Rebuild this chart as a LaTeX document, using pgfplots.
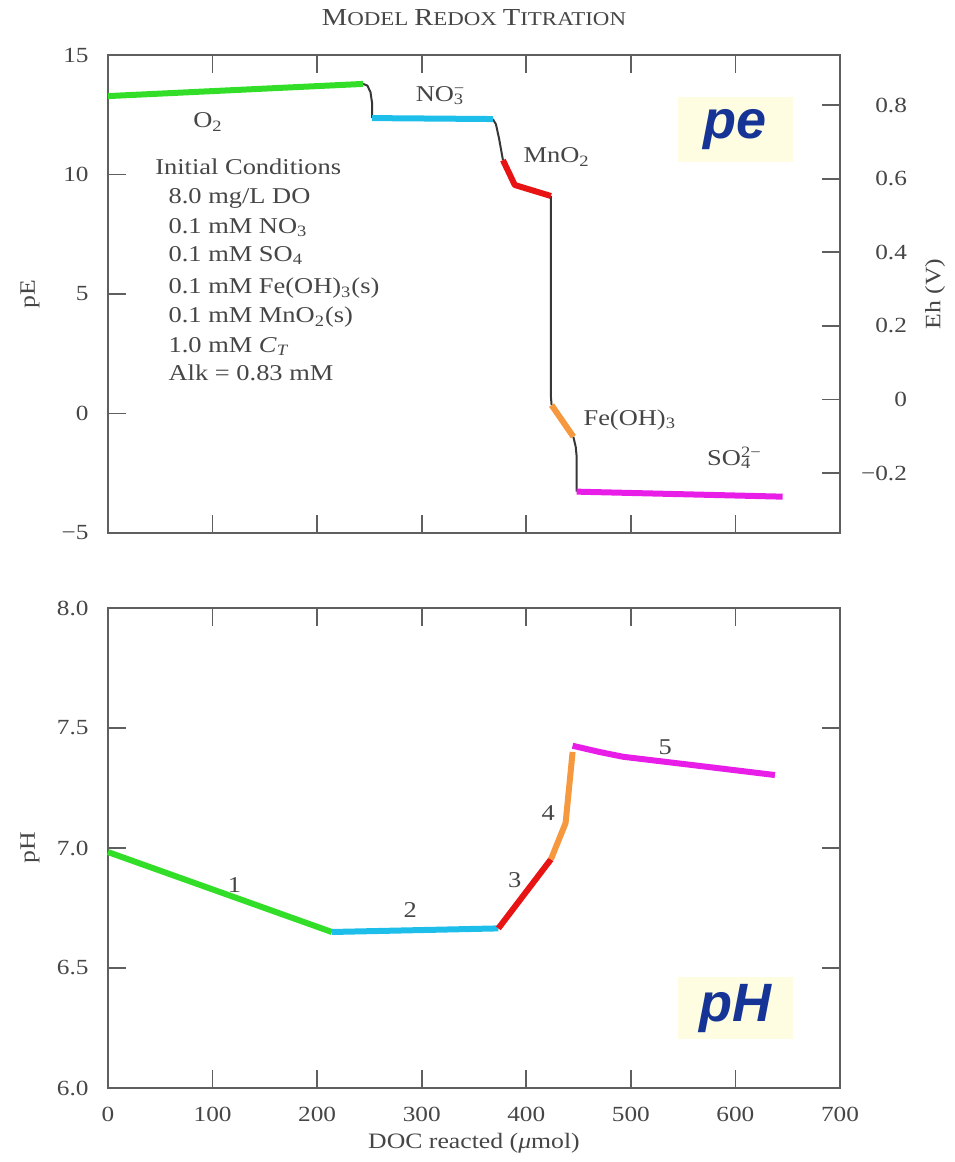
\documentclass[border=0pt]{standalone}
\usepackage{fontspec}
\setmainfont{Liberation Serif}[FakeStretch=1.17]
\newfontfamily\pesans{Liberation Sans}
\usepackage{pgfplots}
\pgfplotsset{compat=1.18}
\definecolor{cgreen}{RGB}{50,222,40}
\definecolor{cblue}{RGB}{30,190,235}
\definecolor{cred}{RGB}{232,20,20}
\definecolor{corange}{RGB}{245,152,62}
\definecolor{cmag}{RGB}{232,30,232}
\definecolor{axgray}{RGB}{95,95,95}
\definecolor{txtgray}{RGB}{70,70,70}
\definecolor{conncol}{RGB}{55,55,55}
\definecolor{boxyellow}{RGB}{254,253,226}
\definecolor{peblue}{RGB}{22,52,150}
\newcommand\fsc[2]{{\fontsize{12.2}{14}\selectfont #1}{\fontsize{9.8}{12}\selectfont #2}}
\tikzset{
  connline/.style={draw=conncol, line width=1pt, line join=round},
  seg/.style={draw=#1, line width=3pt, line join=round},
  lab/.style={font=\fontsize{11.3}{13}\selectfont, text=txtgray},
  cond/.style={lab, anchor=base west, inner sep=0pt},
}
\begin{document}
\begin{tikzpicture}
\useasboundingbox (0,0) rectangle (477pt,581pt);
\pgfplotsset{
  every axis/.append style={
    scale only axis, width=366pt,
    axis line style={color=axgray, line width=0.9pt},
    tick style={color=axgray, line width=0.9pt},
    major tick length=9pt, tick align=inside,
    ticklabel style={font=\fontsize{10.8}{13}\selectfont, text=txtgray},
    /pgf/number format/assume math mode=true,
    label style={font=\fontsize{11}{13}\selectfont, text=txtgray},
  },
}
% ---------------- top panel (pE) ----------------
\begin{axis}[
  at={(54pt,314.5pt)}, anchor=south west, height=239pt,
  xmin=0, xmax=700, ymin=-5, ymax=15,
  xtick={100,200,...,600}, xticklabels={},
  xtick pos=both, ytick pos=left,
  ytick={-5,0,5,10,15}, yticklabels={−5,0,5,10,15},
  yticklabel style={xshift=-6.2pt},
  ylabel={pE}, ylabel style={at={(rel axis cs:-0.1066,0.5)}, anchor=center},
  title={\fsc{M}{ODEL} \fsc{R}{EDOX} \fsc{T}{ITRATION}},
  title style={at={(rel axis cs:0.5,1.0774)}, anchor=center, yshift=-6pt, text=txtgray},
  clip=false,
]
\addplot[connline] coordinates {(244,13.79) (248,13.72) (251,13.45) (252.5,13.0) (252.5,12.36)};
\addplot[connline] coordinates {(368,12.32) (371,12.1) (374,11.5) (377.7,10.6)};
\addplot[connline] coordinates {(423.6,9.1) (423.6,0.69) (424.2,0.35)};
\addplot[connline] coordinates {(445,-0.97) (447.3,-1.4) (448.2,-1.81) (448.2,-3.27)};
\addplot[seg=cgreen] coordinates {(0,13.28) (244,13.79)};
\addplot[seg=cblue] coordinates {(252.5,12.36) (368,12.32)};
\addplot[seg=cred] coordinates {(377.7,10.6) (389,9.56) (423.6,9.1)};
\addplot[seg=corange] coordinates {(424.2,0.35) (445,-0.97)};
\addplot[seg=cmag] coordinates {(448.2,-3.27) (645.2,-3.48)};
\node[lab] at (axis cs:95.6,12.2) {O\textsubscript{2}};
\node[lab] at (axis cs:317.5,13.3) {NO\rlap{\textsuperscript{−}}\textsubscript{3}};
\node[lab] at (axis cs:429,10.73) {MnO\textsubscript{2}};
\node[lab] at (axis cs:499,-0.27) {Fe(OH)\textsubscript{3}};
\node[lab] at (axis cs:604,-1.86) {SO\rlap{\textsuperscript{2−}}\textsubscript{4}\hphantom{\textsuperscript{2−}}};
\node[cond] at (axis cs:44.9,10.0) {Initial Conditions};
\node[cond] at (axis cs:57.6,8.77) {8.0 mg/L DO};
\node[cond] at (axis cs:57.6,7.54) {0.1 mM NO\textsubscript{3}};
\node[cond] at (axis cs:57.6,6.38) {0.1 mM SO\textsubscript{4}};
\node[cond] at (axis cs:57.6,5.0) {0.1 mM Fe(OH)\textsubscript{3}(s)};
\node[cond] at (axis cs:57.6,3.79) {0.1 mM MnO\textsubscript{2}(s)};
\node[cond] at (axis cs:57.6,2.55) {1.0 mM \textit{C}\textsubscript{\textit{T}}};
\node[cond] at (axis cs:57.6,1.39) {Alk = 0.83 mM};
\node[fill=boxyellow, minimum width=57.5pt, minimum height=32.5pt, inner sep=0pt,
      text=peblue, font=\pesans\bfseries\itshape\fontsize{27}{30}\selectfont]
      at (axis cs:600,11.88) {pe};
\end{axis}
% ---------------- right Eh axis ----------------
\begin{axis}[
  at={(54pt,314.5pt)}, anchor=south west, height=239pt,
  xmin=0, xmax=700, ymin=-0.363, ymax=0.936,
  axis x line=none, axis y line*=right, tick align=inside,
  ytick={-0.2,0,0.2,0.4,0.6,0.8}, yticklabels={−0.2,0,0.2,0.4,0.6,0.8},
  yticklabel style={anchor=east, xshift=37pt},
  ylabel={Eh (V)}, ylabel style={at={(rel axis cs:1.13,0.5)}, anchor=center},
]
\end{axis}
% ---------------- bottom panel (pH) ----------------
\begin{axis}[
  at={(54pt,37pt)}, anchor=south west, height=240pt,
  xmin=0, xmax=700, ymin=6, ymax=8,
  xtick={0,100,...,700}, ytick={6,6.5,7,7.5,8},
  xtick pos=both, ytick pos=both,
  yticklabel style={/pgf/number format/fixed, /pgf/number format/fixed zerofill, /pgf/number format/precision=1, xshift=-6.2pt},
  xticklabel style={yshift=-6pt},
  xlabel={DOC reacted (\textit{μ}mol)}, xlabel style={at={(rel axis cs:0.5,-0.1146)}, anchor=center},
  ylabel={pH}, ylabel style={at={(rel axis cs:-0.1066,0.5)}, anchor=center},
  clip=false,
]
\addplot[seg=cgreen] coordinates {(0,6.983) (214,6.65)};
\addplot[seg=cblue] coordinates {(214,6.65) (373.3,6.665)};
\addplot[seg=cred] coordinates {(373.3,6.665) (423.6,6.953)};
\addplot[seg=corange] coordinates {(423.6,6.953) (437.6,7.104) (444.3,7.40)};
\addplot[seg=cmag] coordinates {(444.3,7.426) (470,7.40) (492.8,7.38) (560,7.345) (637.8,7.304)};
\node[lab] at (axis cs:121,6.846) {1};
\node[lab] at (axis cs:289,6.742) {2};
\node[lab] at (axis cs:389,6.867) {3};
\node[lab] at (axis cs:421,7.146) {4};
\node[lab] at (axis cs:533,7.42) {5};
\node[fill=boxyellow, minimum width=57.5pt, minimum height=31pt, inner sep=0pt,
      text=peblue, font=\pesans\bfseries\itshape\fontsize{27}{30}\selectfont]
      at (axis cs:600,6.333) {pH};
\end{axis}
\end{tikzpicture}
\end{document}
